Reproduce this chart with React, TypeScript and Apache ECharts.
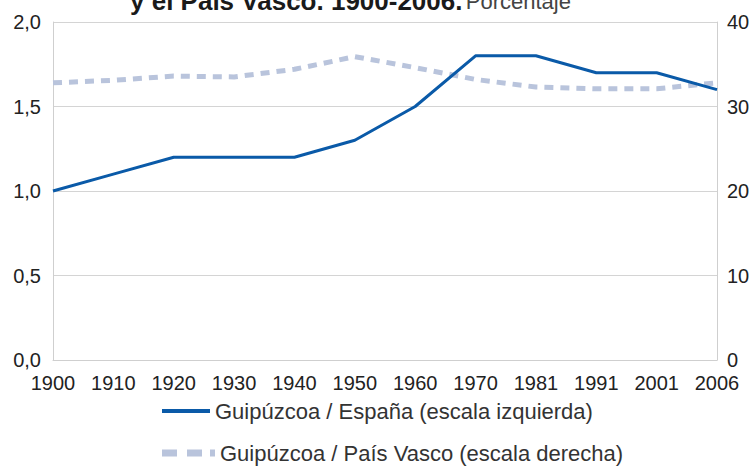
import React, { useEffect, useRef } from "react";
import * as echarts from "echarts";

const years = ["1900", "1910", "1920", "1930", "1940", "1950", "1960", "1970", "1981", "1991", "2001", "2006"];
const espana = [1.0, 1.1, 1.2, 1.2, 1.2, 1.3, 1.5, 1.8, 1.8, 1.7, 1.7, 1.6];
const paisVasco = [32.8, 33.1, 33.6, 33.5, 34.4, 35.9, 34.6, 33.2, 32.3, 32.1, 32.1, 32.8];
const seriesNames = ["Guipúzcoa / España (escala izquierda)", "Guipúzcoa / País Vasco (escala derecha)"];
const titleBold = "y el País Vasco. 1900-2006.";
const titleLight = "Porcentaje";

const FONT = "'Liberation Sans', Arial, sans-serif";
const BLUE = "#0a5aa8";
const LIGHT = "#b9c4dc";

export default function App() {
  const ref = useRef<HTMLDivElement>(null);
  useEffect(() => {
    if (!ref.current) return;
    const chart = echarts.init(ref.current, undefined, { renderer: "svg" });
    const legendText = { fontSize: 22, color: "#333", fontFamily: FONT };
    chart.setOption({
      animation: false,
      textStyle: { fontFamily: FONT },
      graphic: [
        {
          type: "text",
          left: 130,
          top: -12,
          style: {
            text: "{b|" + titleBold + "} {l|" + titleLight + "}",
            rich: {
              b: { fontFamily: FONT, fontSize: 26, fontWeight: "bold", fill: "#1a1a1a" },
              l: { fontFamily: FONT, fontSize: 22, fill: "#444" },
            },
          },
        },
      ],
      grid: { left: 53, right: 37, top: 22, bottom: 106 },
      legend: [
        {
          left: 162,
          top: 400,
          padding: 0,
          itemWidth: 48,
          itemHeight: 4,
          itemGap: 0,
          icon: "rect",
          textStyle: legendText,
          data: [seriesNames[0]],
        },
        {
          left: 162,
          top: 442,
          padding: 0,
          itemWidth: 53,
          itemHeight: 7,
          itemGap: 0,
          icon: "path://M0,0h15v7h-15z M25,0h15v7h-15z M48,0h5v7h-5z",
          textStyle: legendText,
          data: [seriesNames[1]],
        },
      ],
      xAxis: {
        type: "category",
        data: years,
        boundaryGap: false,
        axisLine: { lineStyle: { color: "#cfcfcf", width: 1 } },
        axisTick: { show: false },
        axisLabel: { fontSize: 20, color: "#222", margin: 13, interval: 0 },
      },
      yAxis: [
        {
          type: "value",
          min: 0,
          max: 2,
          interval: 0.5,
          axisLine: { show: true, lineStyle: { color: "#cfcfcf" } },
          axisTick: { show: false },
          splitLine: { lineStyle: { color: "#d4d4d4" } },
          axisLabel: {
            fontSize: 20,
            color: "#222",
            margin: 12,
            formatter: (v: number) => v.toFixed(1).replace(".", ","),
          },
        },
        {
          type: "value",
          min: 0,
          max: 40,
          interval: 10,
          position: "right",
          axisLine: { show: true, lineStyle: { color: "#cfcfcf" } },
          axisTick: { show: false },
          splitLine: { show: false },
          axisLabel: { fontSize: 20, color: "#222", margin: 10 },
        },
      ],
      series: [
        {
          name: seriesNames[1],
          type: "line",
          yAxisIndex: 1,
          data: paisVasco,
          symbol: "none",
          lineStyle: { color: LIGHT, width: 5, type: [9, 7] },
          itemStyle: { color: LIGHT },
          z: 2,
        },
        {
          name: seriesNames[0],
          type: "line",
          yAxisIndex: 0,
          data: espana,
          symbol: "none",
          lineStyle: { color: BLUE, width: 3 },
          itemStyle: { color: BLUE },
          z: 3,
        },
      ],
    });
    return () => chart.dispose();
  }, []);
  return <div ref={ref} style={{ width: 754, height: 466, position: "absolute", left: 0, top: 0 }} />;
}
